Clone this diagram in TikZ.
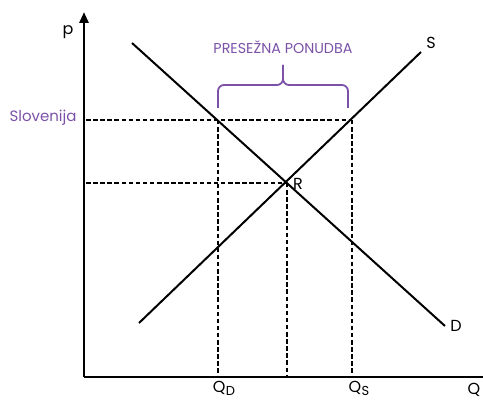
\documentclass[tikz,border=0pt]{standalone}
\usepackage{fontspec}
\setmainfont{Poppins}
\usetikzlibrary{arrows.meta}
\definecolor{purp}{RGB}{123,82,168}
\begin{document}
\begin{tikzpicture}[x=1pt,y=-1pt,
  axis/.style={line width=2.8pt},
  curve/.style={line width=2pt},
  guide/.style={line width=1.3pt,dash pattern=on 4.5pt off 2.6pt},
  lbl/.style={inner sep=0pt,font=\fontsize{16}{18}\selectfont},
  plbl/.style={inner sep=0pt,text=purp},
  brace/.style={purp,line width=1.8pt,rounded corners=6pt}]
\useasboundingbox (0,0) rectangle (483,401);
\coordinate (O) at (84,377);
\coordinate (ytop) at (84,12);
\coordinate (xend) at (483,377);
% curves
\coordinate (d1) at (132,43);
\coordinate (d2) at (445,326);
\coordinate (s1) at (139,323);
\coordinate (s2) at (421,52);
\coordinate (A) at (218,120);
\coordinate (B) at (352,120);
\coordinate (R) at (287,183);
\coordinate (yA) at (86,120);
\coordinate (yR) at (86,183);
\coordinate (xA) at (218,377);
\coordinate (xR) at (287,377);
\coordinate (xB) at (352,377);
% guides
\draw[guide] (yA) -- (B);
\draw[guide] (yR) -- (R);
\draw[guide] (A) -- (xA);
\draw[guide] (R) -- (xR);
\draw[guide] (B) -- (xB);
% axes
\draw[axis,-{Triangle[length=11pt,width=9pt]}] (O) -- (ytop);
\draw[axis] (O) -- (xend);
\draw[curve] (d1) -- (d2);
\draw[curve] (s1) -- (s2);
% brace
\coordinate (bl) at (218,108);
\coordinate (br) at (348,108);
\coordinate (bm) at (283,85);
\coordinate (bt) at (283,65);
\draw[brace] (bl) |- (bm) -- (bt);
\draw[brace] (br) |- (bm) -- (bt);
% labels
\node[lbl] (p) at (68,32) {p};
\node[lbl] (S) at (431,43) {S};
\node[lbl] (D) at (456,326) {D};
\node[lbl,anchor=west] (Rl) at (293,184) {R};
\node[lbl] (Q) at (474,390) {Q};
\node[lbl,anchor=base] (QD) at (224,393) {Q\kern0.5pt\raisebox{-3pt}{\fontsize{13}{15}\selectfont D}};
\node[lbl,anchor=base] (QS) at (359,393) {Q\kern0.5pt\raisebox{-3pt}{\fontsize{13}{15}\selectfont S}};
\node[plbl,font=\fontsize{15}{17}\selectfont] (slo) at (43,118) {Slovenija};
\node[plbl,font=\fontsize{14.3}{16}\selectfont] (pp) at (283,47) {PRESEŽNA PONUDBA};
\end{tikzpicture}
\end{document}
